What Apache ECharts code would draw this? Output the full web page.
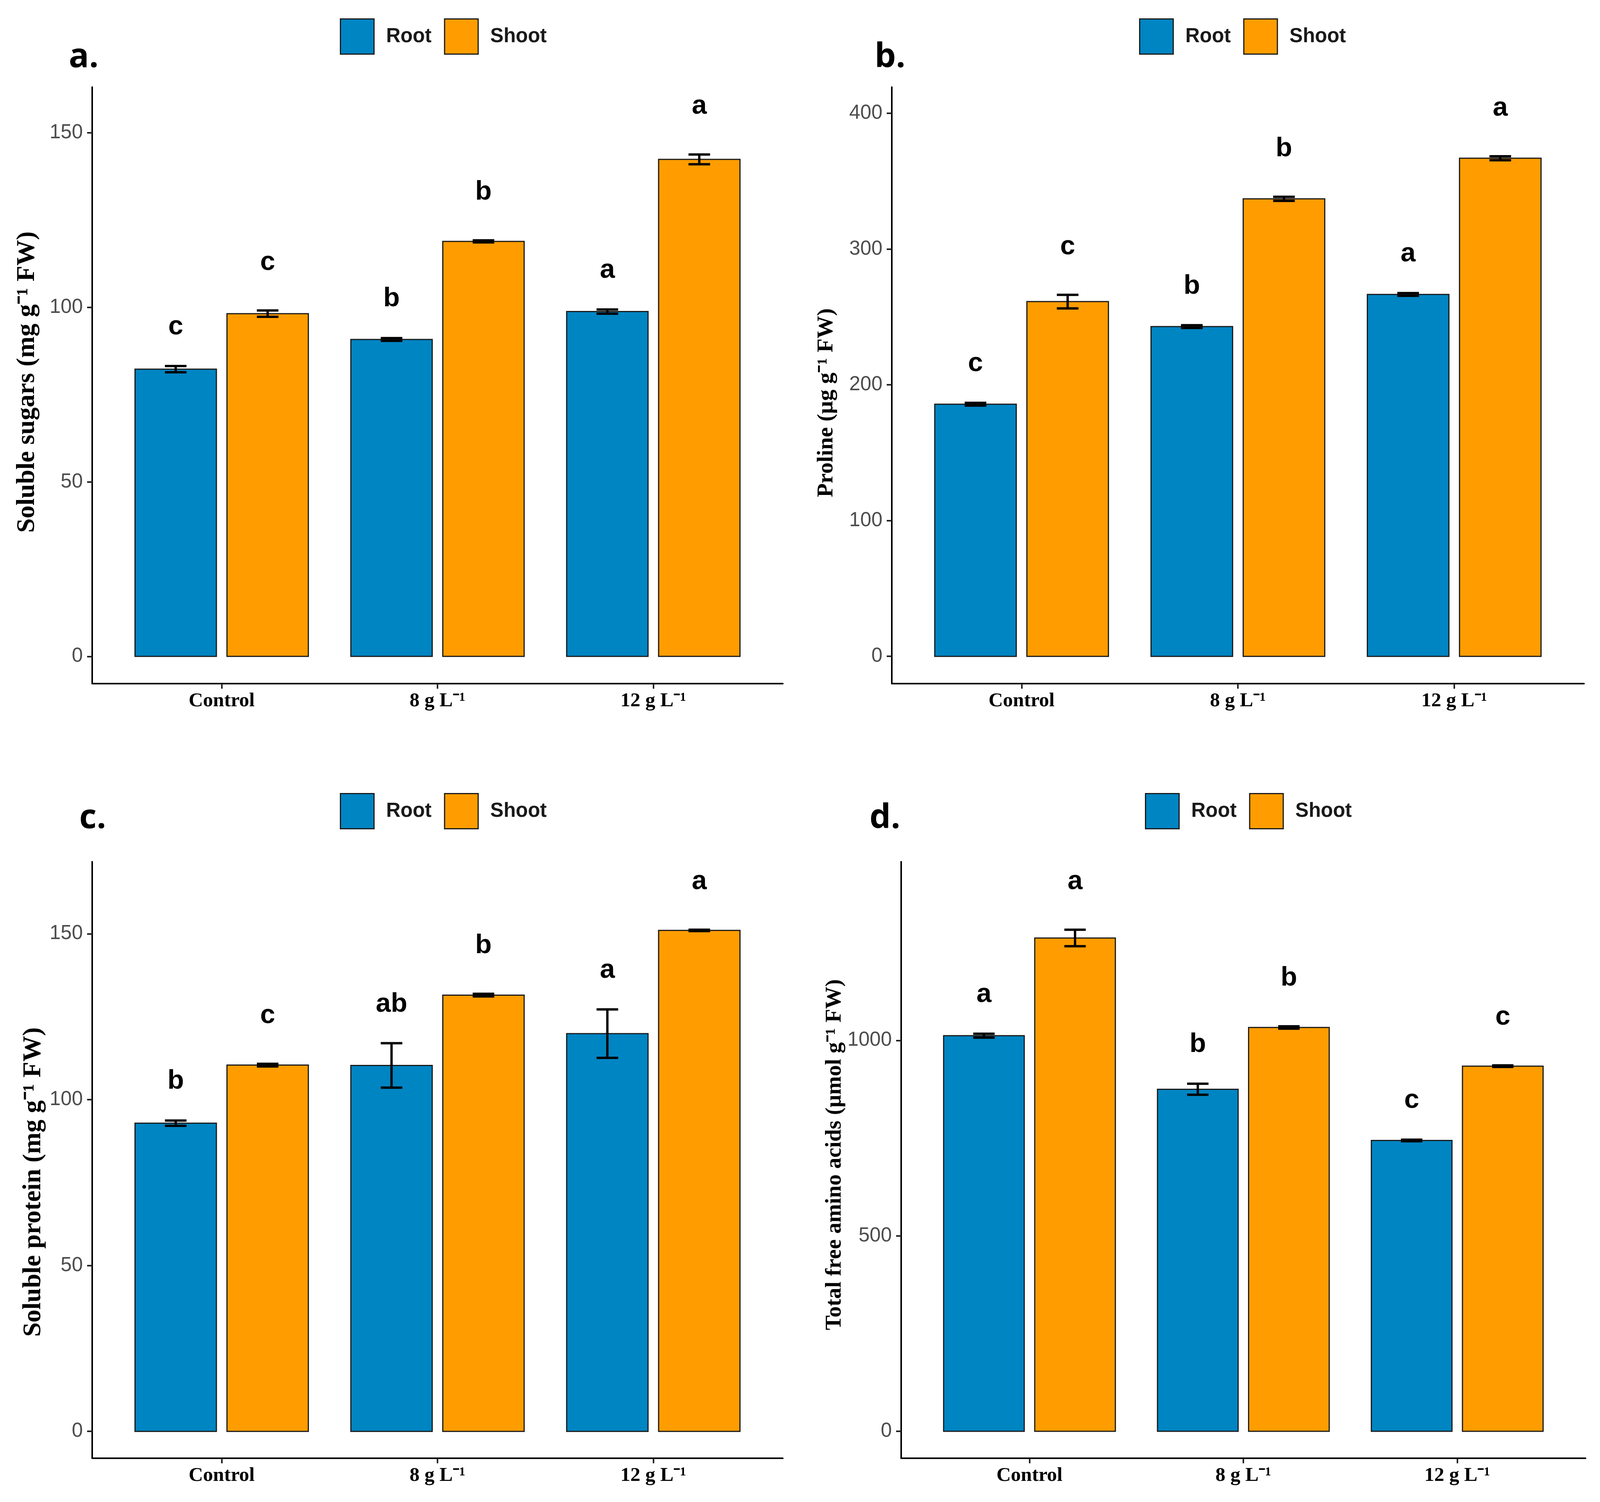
<!DOCTYPE html>
<html>
<head>
<meta charset="utf-8">
<script src="https://cdn.jsdelivr.net/npm/echarts@6/dist/echarts.min.js"></script>
<style>
	html, body { margin: 0; padding: 0; background: #fff; overflow: hidden; }
	#chart { width: 100vw; height: 100vh; }
</style>
</head>
<body>
<div id="chart"></div>
<script>
// treatment groups, placed at x = 1, 2, 3
var groups = ['Control', '8 g L⁻¹', '12 g L⁻¹']
var groupPos = [1, 2, 3]

// a. soluble sugars
var sugarRoot = [82.3, 90.8, 98.8]
var sugarRootErr = [0.9, 0.4, 0.6]
var sugarShoot = [98.2, 118.9, 142.4]
var sugarShootErr = [0.9, 0.3, 1.4]
var sugarRootLetters = ['c', 'b', 'a']
var sugarShootLetters = ['c', 'b', 'a']
var sugarTicks = [0, 50, 100, 150]

// b. proline
var prolineRoot = [185.7, 242.9, 266.6]
var prolineRootErr = [1, 1, 1]
var prolineShoot = [261.3, 337.0, 366.9]
var prolineShootErr = [5, 1.5, 1.5]
var prolineRootLetters = ['c', 'b', 'a']
var prolineShootLetters = ['c', 'b', 'a']
var prolineTicks = [0, 100, 200, 300, 400]

// c. soluble protein
var proteinRoot = [92.9, 110.3, 119.9]
var proteinRootErr = [0.8, 6.7, 7.3]
var proteinShoot = [110.4, 131.5, 151.0]
var proteinShootErr = [0.4, 0.4, 0.2]
var proteinRootLetters = ['b', 'ab', 'a']
var proteinShootLetters = ['c', 'b', 'a']
var proteinTicks = [0, 50, 100, 150]

// d. total free amino acids
var aminoRoot = [1012, 875, 744]
var aminoRootErr = [5, 14, 2]
var aminoShoot = [1262, 1033, 934]
var aminoShootErr = [21, 3, 2]
var aminoRootLetters = ['a', 'b', 'c']
var aminoShootLetters = ['a', 'b', 'c']
var aminoTicks = [0, 500, 1000]

var ROOT = '#0085C3'
var SHOOT = '#FF9D00'
var barWidth = 0.377
var capWidth = 0.1
var shift = 0.213

// layout is written for a 4368 x 3845 page, scaled to the real viewport
var sx = (window.innerWidth || 4368) / 4368
var sy = (window.innerHeight || 3845) / 3845
var s = Math.min(sx, sy)
function X(v) { return Math.round(v * sx) }
function Y(v) { return Math.round(v * sy) }
function F(v) { return Math.round(v * s) }

// panel layout (pixels)
var panels = [
	{ tag: 'a.', title: 'Soluble sugars (mg g⁻¹ FW)', titleSize: 66, titleX: 75, titleY: 978,
	  left: 252, top: 223, width: 1885, height: 1527, yMin: -7.8, yMax: 163.1, ticks: sugarTicks,
	  legendLeft: 922, legendTop: 42, tagLeft: 188, tagTop: 104,
	  root: sugarRoot, rootErr: sugarRootErr, rootLetters: sugarRootLetters,
	  shoot: sugarShoot, shootErr: sugarShootErr, shootLetters: sugarShootLetters },
	{ tag: 'b.', title: 'Proline (µg g⁻¹ FW)', titleSize: 58, titleX: 2257, titleY: 1031,
	  left: 2435, top: 223, width: 1890, height: 1527, yMin: -20.1, yMax: 419.3, ticks: prolineTicks,
	  legendLeft: 3104, legendTop: 42, tagLeft: 2388, tagTop: 104,
	  root: prolineRoot, rootErr: prolineRootErr, rootLetters: prolineRootLetters,
	  shoot: prolineShoot, shootErr: prolineShootErr, shootLetters: prolineShootLetters },
	{ tag: 'c.', title: 'Soluble protein (mg g⁻¹ FW)', titleSize: 66, titleX: 92, titleY: 3026,
	  left: 252, top: 2206, width: 1885, height: 1527, yMin: -8.1, yMax: 171.7, ticks: proteinTicks,
	  legendLeft: 922, legendTop: 2025, tagLeft: 217, tagTop: 2052,
	  root: proteinRoot, rootErr: proteinRootErr, rootLetters: proteinRootLetters,
	  shoot: proteinShoot, shootErr: proteinShootErr, shootLetters: proteinShootLetters },
	{ tag: 'd.', title: 'Total free amino acids (µmol g⁻¹ FW)', titleSize: 57, titleX: 2279, titleY: 2956,
	  left: 2460, top: 2206, width: 1868, height: 1527, yMin: -69, yMax: 1457, ticks: aminoTicks,
	  legendLeft: 3120, legendTop: 2025, tagLeft: 2374, tagTop: 2052,
	  root: aminoRoot, rootErr: aminoRootErr, rootLetters: aminoRootLetters,
	  shoot: aminoShoot, shootErr: aminoShootErr, shootLetters: aminoShootLetters },
]

function barSeries(name, color, idx, offset, values, errs, letters, letterGap) {
	return {
		type: 'custom',
		name: name,
		xAxisIndex: idx,
		yAxisIndex: idx,
		itemStyle: { color: color },
		data: values.map(function (v, i) {
			return [groupPos[i] + offset, v, errs[i]]
		}),
		renderItem: function (params, api) {
			var x = api.value(0)
			var v = api.value(1)
			var e = api.value(2)
			var p0 = api.coord([x - barWidth / 2, v])
			var p1 = api.coord([x + barWidth / 2, 0])
			var top = api.coord([x, v + e])
			var bot = api.coord([x, v - e])
			var cl = api.coord([x - capWidth / 2, v])
			var cr = api.coord([x + capWidth / 2, v])
			var errStyle = { stroke: '#000', lineWidth: F(6) }
			return {
				type: 'group',
				children: [
					{
						type: 'rect',
						shape: { x: p0[0], y: p0[1], width: p1[0] - p0[0], height: p1[1] - p0[1] },
						style: { fill: color, stroke: '#1a1a1a', lineWidth: F(3) },
					},
					{ type: 'line', shape: { x1: top[0], y1: top[1], x2: bot[0], y2: bot[1] }, style: errStyle },
					{ type: 'line', shape: { x1: cl[0], y1: top[1], x2: cr[0], y2: top[1] }, style: errStyle },
					{ type: 'line', shape: { x1: cl[0], y1: bot[1], x2: cr[0], y2: bot[1] }, style: errStyle },
					{
						type: 'text',
						x: top[0],
						y: top[1] - Y(letterGap),
						style: {
							text: letters[params.dataIndex],
							fill: '#000',
							fontSize: F(74),
							fontWeight: 'bold',
							fontFamily: 'Liberation Sans',
							align: 'center',
							verticalAlign: 'middle',
						},
					},
				],
			}
		},
	}
}

var myChart = echarts.init(document.getElementById('chart'), null, { renderer: 'canvas' })
var option

var graphics = []
panels.forEach(function (p) {
	// panel tag
	graphics.push({
		type: 'text',
		left: X(p.tagLeft),
		top: Y(p.tagTop),
		style: { text: p.tag, fill: '#000', fontSize: F(92), fontWeight: 'bold', fontFamily: 'Open Sans' },
	})
	// y axis title, read bottom to top
	graphics.push({
		type: 'text',
		x: X(p.titleX),
		y: Y(p.titleY),
		rotation: Math.PI / 2,
		style: {
			text: p.title,
			fill: '#000',
			fontSize: Y(p.titleSize),
			fontWeight: 'bold',
			fontFamily: 'Liberation Serif',
			align: 'center',
			verticalAlign: 'middle',
		},
	})
})

option = {
	backgroundColor: '#fff',
	animation: false,
	grid: panels.map(function (p) {
		return { left: X(p.left), top: Y(p.top), width: X(p.width), height: Y(p.height), containLabel: false }
	}),
	xAxis: panels.map(function (p, i) {
		return {
			type: 'value',
			gridIndex: i,
			min: 0.4,
			max: 3.6,
			splitLine: { show: false },
			axisLine: { show: true, onZero: false, lineStyle: { color: '#000', width: F(4) } },
			axisTick: { show: true, length: F(14), customValues: groupPos, lineStyle: { color: '#222', width: F(4) } },
			axisLabel: {
				customValues: groupPos,
				margin: F(20),
				formatter: function (v) {
					return groups[Math.round(v) - 1]
				},
				color: '#000',
				fontSize: F(54),
				fontWeight: 'bold',
				fontFamily: 'Liberation Serif',
			},
		}
	}),
	yAxis: panels.map(function (p, i) {
		return {
			type: 'value',
			gridIndex: i,
			min: p.yMin,
			max: p.yMax,
			splitLine: { show: false },
			axisLine: { show: true, onZero: false, lineStyle: { color: '#000', width: F(4) } },
			axisTick: { show: true, length: F(14), customValues: p.ticks, lineStyle: { color: '#222', width: F(4) } },
			axisLabel: {
				customValues: p.ticks,
				margin: F(26),
				formatter: function (v) {
					return String(v)
				},
				color: '#4d4d4d',
				fontSize: F(54),
				fontFamily: 'Liberation Sans',
			},
		}
	}),
	legend: panels.map(function (p) {
		return {
			left: X(p.legendLeft),
			top: Y(p.legendTop),
			orient: 'horizontal',
			icon: 'rect',
			itemWidth: X(92),
			itemHeight: Y(90),
			itemGap: X(34),
			selectedMode: false,
			data: [
				{ name: 'Root', itemStyle: { color: ROOT, borderColor: '#1a1a1a', borderWidth: F(3) } },
				{ name: 'Shoot', itemStyle: { color: SHOOT, borderColor: '#1a1a1a', borderWidth: F(3) } },
			],
			textStyle: {
				fontSize: F(54),
				fontWeight: 'bold',
				fontFamily: 'Liberation Sans',
				color: '#1a1a1a',
				padding: [0, 0, 0, X(28)],
			},
		}
	}),
	graphic: graphics,
	series: [],
}

panels.forEach(function (p, i) {
	option.series.push(barSeries('Root', ROOT, i, -shift, p.root, p.rootErr, p.rootLetters, 100))
	option.series.push(barSeries('Shoot', SHOOT, i, shift, p.shoot, p.shootErr, p.shootLetters, 123))
})

option && myChart.setOption(option)
</script>
</body>
</html>
